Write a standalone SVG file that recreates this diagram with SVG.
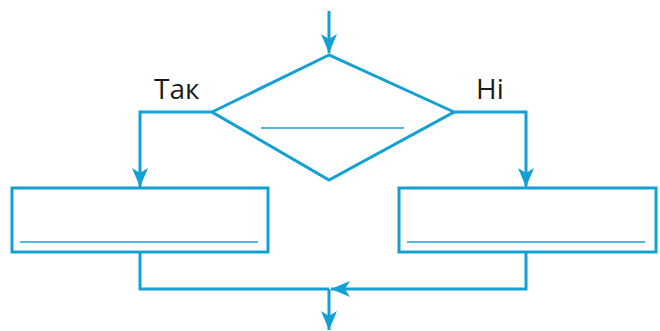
<svg xmlns="http://www.w3.org/2000/svg" width="660" height="331" viewBox="0 0 660 331">
  <style>
    .ln { fill: none; stroke: #13a0d4; stroke-width: 3; stroke-linejoin: miter; }
    .thin { fill: none; stroke: #13a0d4; stroke-width: 1.6; }
    .lbl { font-family: "Open Sans", "Liberation Sans", sans-serif; font-size: 28px; fill: #1a1a1a; }
  </style>
  <defs>
    <marker id="arr" markerUnits="userSpaceOnUse" markerWidth="20" markerHeight="18" viewBox="-19 -9 20 18" refX="0" refY="0" orient="auto">
      <path d="M0,0 L-19,-8 L-14,0 L-19,8 Z" fill="#13a0d4"/>
    </marker>
  </defs>
  <rect width="660" height="331" fill="#ffffff"/>
  <g id="connectors">
    <path class="ln" d="M329,11 V53" marker-end="url(#arr)"/>
    <path class="ln" d="M212,112 H140 V187" marker-end="url(#arr)"/>
    <path class="ln" d="M454,112 H526 V187" marker-end="url(#arr)"/>
    <path class="ln" d="M140,252 V289 H329"/>
    <path class="ln" d="M526,252 V289 H331" marker-end="url(#arr)"/>
    <path class="ln" d="M329,289 V330" marker-end="url(#arr)"/>
  </g>
  <g id="decision">
    <polygon class="ln" points="329,55 212,112 329,180 454,112"/>
    <line class="thin" x1="261" y1="128" x2="404" y2="128"/>
  </g>
  <g id="box-left">
    <rect class="ln" x="12" y="188" width="256" height="64"/>
    <line class="thin" x1="20" y1="242" x2="258" y2="242"/>
  </g>
  <g id="box-right">
    <rect class="ln" x="399" y="188" width="257" height="64"/>
    <line class="thin" x1="407" y1="242" x2="645" y2="242"/>
  </g>
  <g id="labels">
    <text class="lbl" x="154" y="99">Так</text>
    <text class="lbl" x="476" y="99">Ні</text>
  </g>
</svg>
